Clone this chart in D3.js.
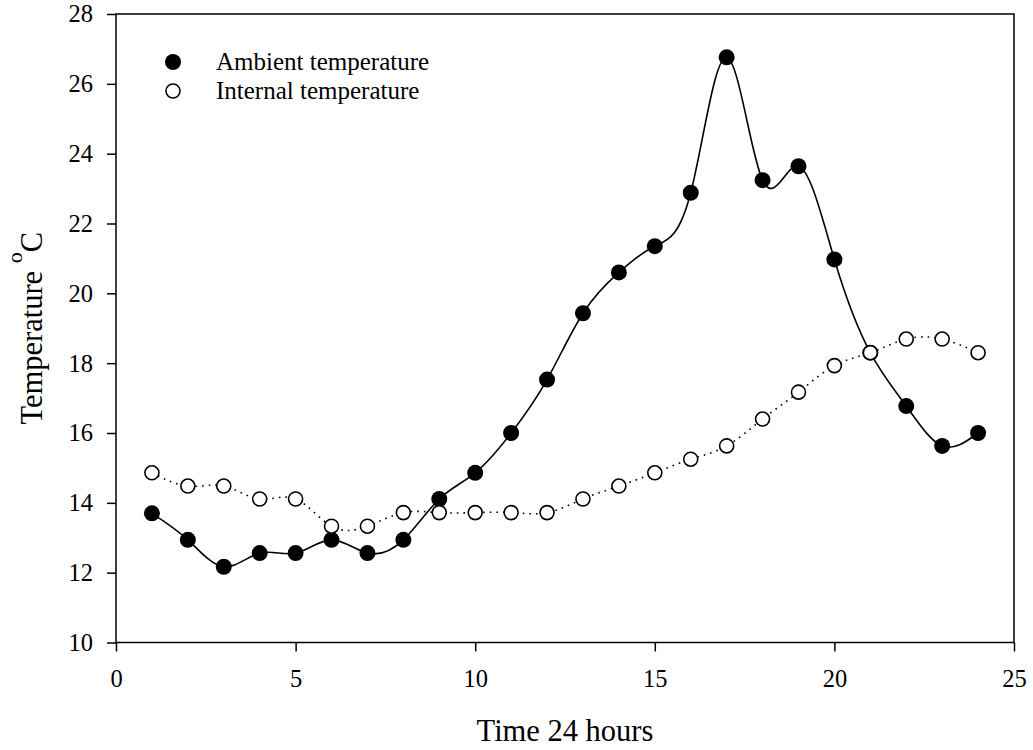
<!DOCTYPE html>
<html>
<head>
<meta charset="utf-8">
<script src="https://cdn.jsdelivr.net/npm/d3@7"></script>
<style>
  html, body { margin: 0; padding: 0; background: #fff; }
  svg text { font-family: "Liberation Serif", "Times New Roman", serif; fill: #000; }
</style>
</head>
<body>
<svg id="chart" width="1033" height="750"></svg>
<script>
// hours of the day
const hours = d3.range(1, 25);

// ambient temperature (filled markers, solid spline)
const ambient = [13.70, 12.94, 12.17, 12.56, 12.56, 12.94, 12.56, 12.94, 14.11, 14.86,
                 16.00, 17.53, 19.43, 20.60, 21.35, 22.88, 26.76, 23.24, 23.64, 20.97,
                 18.30, 16.77, 15.63, 16.00];

// internal temperature (open markers, dotted spline)
const internal = [14.86, 14.48, 14.48, 14.11, 14.11, 13.33, 13.33, 13.72, 13.72, 13.72,
                  13.72, 13.72, 14.11, 14.48, 14.86, 15.25, 15.63, 16.40, 17.17, 17.93,
                  18.30, 18.69, 18.69, 18.30];

const xTicks = [0, 5, 10, 15, 20, 25];
const yTicks = [10, 12, 14, 16, 18, 20, 22, 24, 26, 28];
const legendLabels = ["Ambient temperature", "Internal temperature"];

/* layout */
const margin = { left: 116, right: 19, top: 14, bottom: 107.5 };
const W = 1033, H = 750;
const svg = d3.select("#chart");

const x = d3.scaleLinear().domain([0, 25]).range([margin.left, W - margin.right]);
const y = d3.scaleLinear().domain([10, 28]).range([H - margin.bottom, margin.top]);

/* axes */
const xAxis = svg.append("g")
  .attr("transform", `translate(0,${y(10)})`)
  .call(d3.axisBottom(x).tickValues(xTicks).tickSize(9).tickPadding(18));
const yAxis = svg.append("g")
  .attr("transform", `translate(${x(0)},0)`)
  .call(d3.axisLeft(y).tickValues(yTicks).tickSize(9).tickPadding(14));

[xAxis, yAxis].forEach(a => {
  a.select(".domain").remove();
  a.selectAll("line").attr("stroke", "#000").attr("stroke-width", 1.5);
  a.selectAll("text").attr("font-family", "Liberation Serif").style("font-size", "24.5px");
});

// frame
svg.append("rect")
  .attr("x", x(0)).attr("y", y(28))
  .attr("width", x(25) - x(0)).attr("height", y(10) - y(28))
  .attr("fill", "none").attr("stroke", "#000").attr("stroke-width", 1.5);

/* axis titles */
svg.append("text")
  .attr("x", (x(0) + x(25)) / 2).attr("y", 741)
  .attr("text-anchor", "middle")
  .style("font-size", "30.5px")
  .text("Time 24 hours");

const yt = svg.append("text")
  .attr("transform", `translate(42,${(y(10) + y(28)) / 2}) rotate(-90)`)
  .attr("text-anchor", "middle")
  .style("font-size", "30.5px");
yt.append("tspan").text("Temperature ");
yt.append("tspan").attr("dy", -20).style("font-size", "22px").text("o");
yt.append("tspan").attr("dy", 20).text("C");

/* lines */
const line = d3.line()
  .x((d, i) => x(hours[i]))
  .y(d => y(d))
  .curve(d3.curveNatural);

svg.append("path")
  .attr("d", line(ambient))
  .attr("fill", "none").attr("stroke", "#000").attr("stroke-width", 1.6);

svg.append("path")
  .attr("d", line(internal))
  .attr("fill", "none").attr("stroke", "#000").attr("stroke-width", 1.6)
  .attr("stroke-dasharray", "1.6,5");

/* markers */
svg.append("g").selectAll("circle")
  .data(ambient).join("circle")
  .attr("cx", (d, i) => x(hours[i])).attr("cy", d => y(d))
  .attr("r", 8).attr("fill", "#000");

svg.append("g").selectAll("circle")
  .data(internal).join("circle")
  .attr("cx", (d, i) => x(hours[i])).attr("cy", d => y(d))
  .attr("r", 7).attr("fill", "#fff").attr("stroke", "#000").attr("stroke-width", 1.6);

/* legend */
const legend = svg.append("g").attr("transform", "translate(173,62)");
legendLabels.forEach((lab, i) => {
  const g = legend.append("g").attr("transform", `translate(0,${i * 29})`);
  if (i === 0) {
    g.append("circle").attr("r", 8).attr("fill", "#000");
  } else {
    g.append("circle").attr("r", 7).attr("fill", "#fff").attr("stroke", "#000").attr("stroke-width", 1.6);
  }
  g.append("text").attr("x", 43).attr("y", 8).style("font-size", "25px").text(lab);
});
</script>
</body>
</html>
